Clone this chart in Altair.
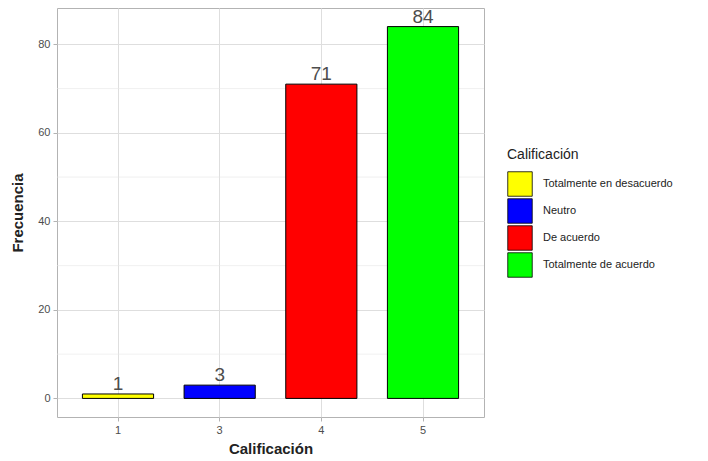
import altair as alt
import pandas as pd

# Frequency of each rating
categorias = ["1", "3", "4", "5"]
frecuencias = [1, 3, 71, 84]
etiquetas = ["Totalmente en desacuerdo", "Neutro", "De acuerdo", "Totalmente de acuerdo"]
colores = ["#FFFF00", "#0000FF", "#FF0000", "#00FF00"]

# Minor horizontal grid positions
grid_menor = [10, 30, 50, 70]
ticks_y = [0, 20, 40, 60, 80]

df = pd.DataFrame({"cat": categorias, "n": frecuencias, "Calificación": etiquetas})
df_grid = pd.DataFrame({"g": grid_menor})

FONT = "Liberation Sans"
y_scale = alt.Scale(domain=[-4.2, 88.2], nice=False, zero=False)
x_scale = alt.Scale(domain=categorias, paddingInner=0.3, paddingOuter=0.25)

x_enc = alt.X(
    "cat:N", scale=x_scale, sort=categorias,
    axis=alt.Axis(title="Calificación", labelAngle=0, bandPosition=0.5,
                  grid=True, gridColor="#dedede", gridWidth=1,
                  domain=False, tickColor="#b3b3b3", tickSize=4,
                  labelColor="#4d4d4d", labelFontSize=11, labelPadding=3,
                  titleFontSize=15, titleFontWeight="bold", titleColor="#222222",
                  titlePadding=6),
)
y_axis = alt.Axis(title="Frecuencia", values=ticks_y, grid=True, gridColor="#dedede",
                  gridWidth=1, domain=False, tickColor="#b3b3b3", tickSize=4,
                  labelColor="#4d4d4d", labelFontSize=11, labelPadding=3,
                  titleFontSize=15, titleFontWeight="bold", titleColor="#222222",
                  titlePadding=12)

minor = alt.Chart(df_grid).mark_rule(color="#e6e6e6", strokeWidth=0.6).encode(
    y=alt.Y("g:Q", scale=y_scale, axis=y_axis)
)

bars = alt.Chart(df).mark_bar(stroke="black", strokeWidth=1).encode(
    x=x_enc,
    y=alt.Y("n:Q", scale=y_scale, axis=y_axis),
    color=alt.Color(
        "Calificación:N",
        scale=alt.Scale(domain=etiquetas, range=colores),
        sort=etiquetas,
        legend=alt.Legend(
            title="Calificación", orient="none", legendX=450, legendY=140,
            titleFontSize=14, titleFontWeight="normal", titleColor="#222222",
            titleFont=FONT, titlePadding=9,
            symbolType="square", symbolSize=600, symbolStrokeColor="black",
            symbolStrokeWidth=0.8, symbolOpacity=1, rowPadding=-2,
            labelFontSize=11, labelColor="#222222", labelFont=FONT, labelOffset=10,
        ),
    ),
)

text = alt.Chart(df).mark_text(baseline="bottom", dy=0, fontSize=19, color="#4d4d4d", font=FONT).encode(
    x=alt.X("cat:N", scale=x_scale, sort=categorias),
    y=alt.Y("n:Q", scale=y_scale),
    text=alt.Text("n:Q"),
)

chart = (
    alt.layer(minor, bars, text)
    .properties(
        width=427, height=409,
        autosize=alt.AutoSizeParams(type="none"),
        padding={"left": 57, "top": 8, "right": 224, "bottom": 44},
        background="white",
    )
    .configure_view(stroke="#b3b3b3", strokeWidth=1)
    .configure_axis(labelFont=FONT, titleFont=FONT)
)

chart.save("out.html", embed_options={"renderer": "svg", "actions": False})
